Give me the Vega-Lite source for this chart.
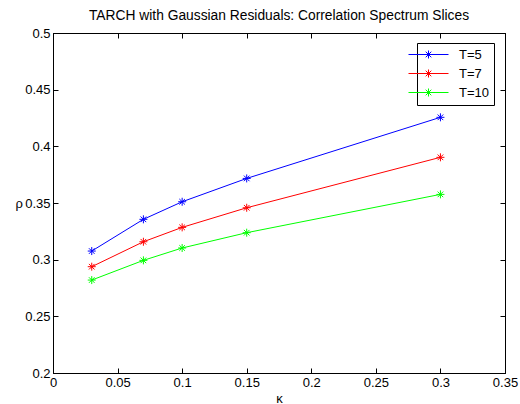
{
  "$schema": "https://vega.github.io/schema/vega-lite/v6.json",
  "width": 452,
  "height": 340,
  "autosize": {"type": "none"},
  "padding": {"left": 53, "top": 33, "right": 15, "bottom": 31},
  "background": "white",
  "config": {
    "font": "Liberation Sans",
    "view": {"stroke": "black", "strokeWidth": 1},
    "axis": {"grid": false, "domainColor": "black", "tickColor": "black", "labelColor": "black", "titleColor": "black", "labelFontSize": 13, "titleFontSize": 13, "titleFontWeight": "normal", "labelFont": "Liberation Sans", "domainWidth": 1, "tickWidth": 1}
  },
  "title": {"text": "TARCH with Gaussian Residuals: Correlation Spectrum Slices", "fontSize": 13.8, "fontWeight": "normal", "color": "black", "offset": 4, "anchor": "middle"},
  "data": {"values": [
    {"k": 0.03, "rho": 0.3076, "T": "T=5"},
    {"k": 0.07, "rho": 0.3356, "T": "T=5"},
    {"k": 0.10, "rho": 0.3511, "T": "T=5"},
    {"k": 0.15, "rho": 0.3717, "T": "T=5"},
    {"k": 0.30, "rho": 0.4256, "T": "T=5"},
    {"k": 0.03, "rho": 0.2938, "T": "T=7"},
    {"k": 0.07, "rho": 0.3158, "T": "T=7"},
    {"k": 0.10, "rho": 0.3285, "T": "T=7"},
    {"k": 0.15, "rho": 0.3458, "T": "T=7"},
    {"k": 0.30, "rho": 0.3903, "T": "T=7"},
    {"k": 0.03, "rho": 0.2820, "T": "T=10"},
    {"k": 0.07, "rho": 0.2994, "T": "T=10"},
    {"k": 0.10, "rho": 0.3103, "T": "T=10"},
    {"k": 0.15, "rho": 0.3238, "T": "T=10"},
    {"k": 0.30, "rho": 0.3576, "T": "T=10"}
  ]},
  "layer": [
    {
      "mark": {"type": "line", "strokeWidth": 1, "point": {"shape": "M-1,0L1,0M0,-1L0,1M-0.7,-0.7L0.7,0.7M-0.7,0.7L0.7,-0.7", "filled": false, "size": 64, "strokeWidth": 1}},
      "encoding": {
        "x": {"field": "k", "type": "quantitative", "scale": {"domain": [0, 0.35], "nice": false}, "axis": {"title": "κ", "values": [0, 0.05, 0.1, 0.15, 0.2, 0.25, 0.3, 0.35], "format": ".2~f", "tickSize": -5, "labelPadding": 8, "titlePadding": 3, "labelFlush": false}},
        "y": {"field": "rho", "type": "quantitative", "scale": {"domain": [0.2, 0.5], "nice": false, "zero": false}, "axis": {"title": "ρ", "values": [0.2, 0.25, 0.3, 0.35, 0.4, 0.45, 0.5], "format": ".2~f", "tickSize": -5, "labelPadding": 8, "titleAngle": 0, "titlePadding": 6, "titleBaseline": "middle", "labelFlush": false}},
        "color": {"field": "T", "type": "nominal", "scale": {"domain": ["T=5", "T=7", "T=10"], "range": ["#0000ff", "#ff0000", "#00ff00"]},
          "legend": {"title": null, "orient": "none", "legendX": 364, "legendY": 10, "strokeColor": "black", "fillColor": "white", "padding": 5, "labelFontSize": 13, "labelColor": "black", "symbolType": "M-5,0L5,0M-1,0L1,0M0,-1L0,1M-0.7,-0.7L0.7,0.7M-0.7,0.7L0.7,-0.7", "symbolSize": 64, "symbolStrokeWidth": 1, "symbolFillColor": "transparent", "rowPadding": 5, "labelOffset": 24}}
      }
    },
    {
      "mark": {"type": "point", "opacity": 0},
      "encoding": {
        "x": {"field": "k", "type": "quantitative", "axis": {"orient": "top", "labels": false, "title": null, "values": [0, 0.05, 0.1, 0.15, 0.2, 0.25, 0.3, 0.35], "tickSize": -5}},
        "y": {"field": "rho", "type": "quantitative", "axis": {"orient": "right", "labels": false, "title": null, "values": [0.2, 0.25, 0.3, 0.35, 0.4, 0.45, 0.5], "tickSize": -5}},
        "color": {"field": "T", "type": "nominal", "legend": null}
      }
    }
  ],
  "resolve": {"axis": {"x": "independent", "y": "independent"}}
}
